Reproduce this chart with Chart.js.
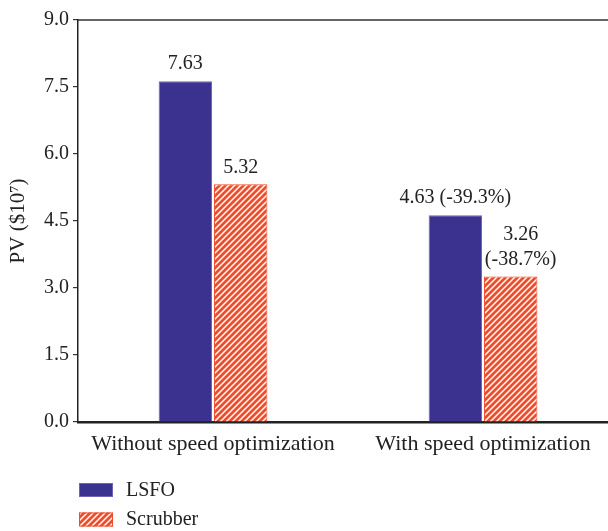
<!DOCTYPE html>
<html>
<head>
<meta charset="utf-8">
<script src="https://cdn.jsdelivr.net/npm/chart.js@4"></script>
<style>
  html, body { margin: 0; padding: 0; overflow: hidden; background: #fff; }
  #wrap { position: relative; width: 630px; height: 531px; }
</style>
</head>
<body>
<div id="wrap"><canvas id="c" width="630" height="531"></canvas></div>
<script>
const categories = ["Without speed optimization", "With speed optimization"];
const seriesNames = ["LSFO", "Scrubber"];
const lsfoValues = [7.63, 4.63];
const scrubberValues = [5.32, 3.26];
const lsfoLabels = [["7.63"], ["4.63 (-39.3%)"]];
const scrubberLabels = [["5.32"], ["3.26", "(-38.7%)"]];
const yTicks = [0.0, 1.5, 3.0, 4.5, 6.0, 7.5, 9.0];
const yTitle = "PV ($10\u2077)";

const FONT = "'Liberation Serif', 'Times New Roman', serif";
const TEXT = "#222222";
const LSFO_COLOR = "#3b318f";
const LSFO_BORDER = "#6d66b8";
const SCRUB_COLOR = "#f04b2a";

function makeHatch() {
  const s = 6;
  const p = document.createElement('canvas');
  p.width = s; p.height = s;
  const g = p.getContext('2d');
  g.fillStyle = SCRUB_COLOR;
  g.fillRect(0, 0, s, s);
  g.strokeStyle = '#ffffff';
  g.lineWidth = 1.5;
  g.beginPath();
  g.moveTo(-1, s + 1); g.lineTo(s + 1, -1);
  g.moveTo(-1, 1); g.lineTo(1, -1);
  g.moveTo(s - 1, s + 1); g.lineTo(s + 1, s - 1);
  g.stroke();
  return g.createPattern(p, 'repeat');
}
const hatch = makeHatch();

const valueLabelPlugin = {
  id: 'valueLabels',
  afterDatasetsDraw(chart) {
    const ctx = chart.ctx;
    ctx.save();
    ctx.font = "20px " + FONT;
    ctx.fillStyle = TEXT;
    ctx.textAlign = 'center';
    ctx.textBaseline = 'middle';
    chart.data.datasets.forEach((ds, di) => {
      const meta = chart.getDatasetMeta(di);
      meta.data.forEach((bar, i) => {
        const lines = ds.valueLabels[i];
        const dx = lines.length > 1 ? 10 : 0;
        const lh = 25;
        lines.forEach((t, li) => {
          const y = bar.y - 17 - (lines.length - 1 - li) * lh;
          ctx.fillText(t, bar.x + dx, y);
        });
      });
    });
    ctx.restore();
  }
};

const framePlugin = {
  id: 'frame',
  afterDraw(chart) {
    const ctx = chart.ctx, a = chart.chartArea;
    ctx.save();
    ctx.strokeStyle = '#333333';
    ctx.lineWidth = 1.5;
    ctx.beginPath();
    ctx.moveTo(a.left, a.top);
    ctx.lineTo(a.right + 20, a.top);
    ctx.stroke();
    ctx.font = "20px " + FONT;
    ctx.textBaseline = 'middle';
    ctx.textAlign = 'left';
    chart.data.datasets.forEach((ds, i) => {
      const y = 483 + i * 29.5;
      ctx.fillStyle = ds.backgroundColor;
      ctx.fillRect(79, y, 34, 14);
      ctx.strokeStyle = ds.borderColor;
      ctx.lineWidth = 1;
      ctx.strokeRect(79.5, y + 0.5, 33, 13);
      ctx.fillStyle = TEXT;
      ctx.fillText(ds.label, 126, y + 7.5);
    });
    ctx.restore();
  }
};

new Chart(document.getElementById('c'), {
  type: 'bar',
  data: {
    labels: categories,
    datasets: [
      {
        label: seriesNames[0],
        data: lsfoValues,
        valueLabels: lsfoLabels,
        backgroundColor: LSFO_COLOR,
        borderColor: LSFO_BORDER,
        borderWidth: 1,
        categoryPercentage: 0.41,
        barPercentage: 0.965
      },
      {
        label: seriesNames[1],
        data: scrubberValues,
        valueLabels: scrubberLabels,
        backgroundColor: hatch,
        borderColor: SCRUB_COLOR,
        borderWidth: 1,
        categoryPercentage: 0.41,
        barPercentage: 0.965
      }
    ]
  },
  options: {
    responsive: false,
    animation: false,
    devicePixelRatio: 1,
    layout: { padding: { top: 20, right: 12, left: 0, bottom: 0 } },
    plugins: {
      legend: { display: false },
      tooltip: { enabled: false }
    },
    scales: {
      x: {
        grid: { display: false },
        border: { display: true, color: '#222222', width: 2.5 },
        ticks: { color: TEXT, font: { family: FONT, size: 22 }, padding: 1, maxRotation: 0 },
        afterFit(scale) { scale.height = 109; }
      },
      y: {
        min: 0, max: 9,
        afterBuildTicks(scale) { scale.ticks = yTicks.map(v => ({ value: v })); },
        grid: { display: true, drawOnChartArea: false, drawTicks: true, tickLength: 5, color: '#333333', lineWidth: 1.2 },
        border: { display: true, color: '#222222', width: 1.5 },
        ticks: {
          color: TEXT, font: { family: FONT, size: 20 }, padding: 4,
          callback: v => Number(v).toFixed(1)
        },
        title: { display: true, text: yTitle, color: TEXT, font: { family: FONT, size: 21 }, padding: { top: 6, bottom: 0 } },
        afterFit(scale) { scale.width = 78; }
      }
    }
  },
  plugins: [valueLabelPlugin, framePlugin]
});
</script>
</body>
</html>
